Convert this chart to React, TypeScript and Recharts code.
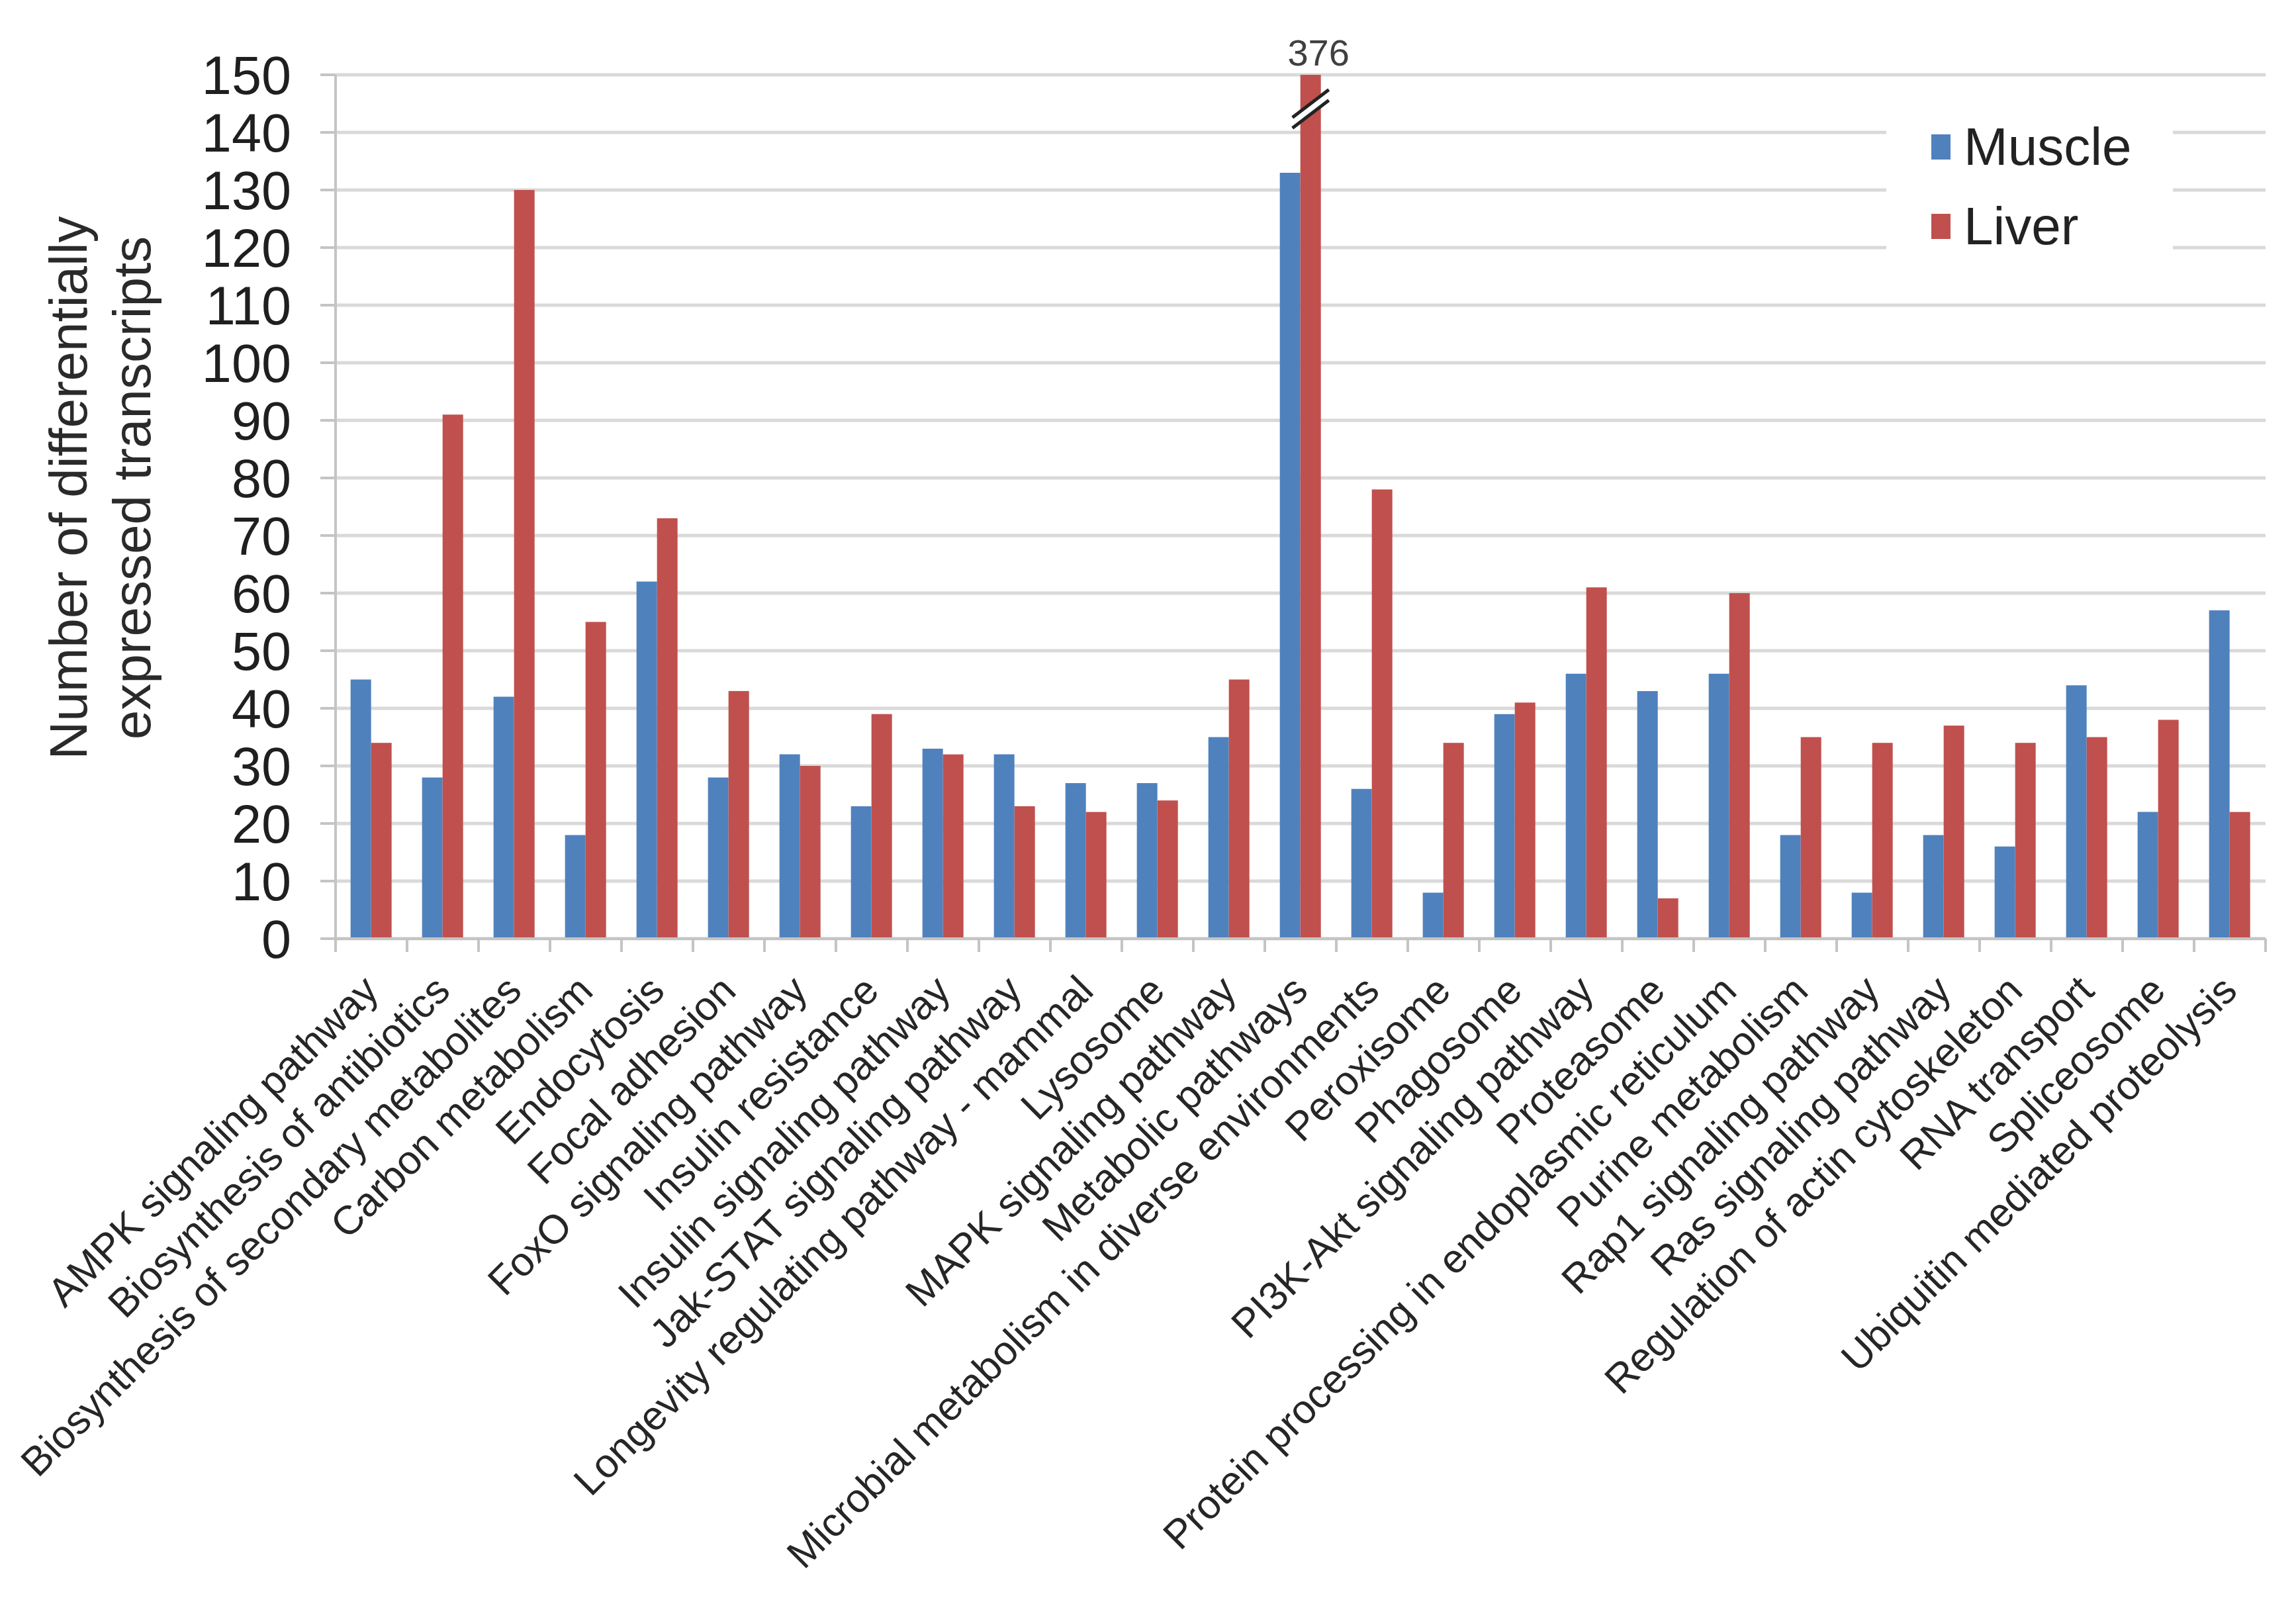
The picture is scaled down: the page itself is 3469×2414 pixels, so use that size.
import { Bar, BarChart, CartesianGrid, Legend, XAxis, YAxis } from "recharts";

const categories = [
  "AMPK signaling pathway",
  "Biosynthesis of antibiotics",
  "Biosynthesis of secondary metabolites",
  "Carbon metabolism",
  "Endocytosis",
  "Focal adhesion",
  "FoxO signaling pathway",
  "Insulin resistance",
  "Insulin signaling pathway",
  "Jak-STAT signaling pathway",
  "Longevity regulating pathway - mammal",
  "Lysosome",
  "MAPK signaling pathway",
  "Metabolic pathways",
  "Microbial metabolism in diverse environments",
  "Peroxisome",
  "Phagosome",
  "PI3K-Akt signaling pathway",
  "Proteasome",
  "Protein processing in endoplasmic reticulum",
  "Purine metabolism",
  "Rap1 signaling pathway",
  "Ras signaling pathway",
  "Regulation of actin cytoskeleton",
  "RNA transport",
  "Spliceosome",
  "Ubiquitin mediated proteolysis",
];

const muscle = [45, 28, 42, 18, 62, 28, 32, 23, 33, 32, 27, 27, 35, 133, 26, 8, 39, 46, 43, 46, 18, 8, 18, 16, 44, 22, 57];
const liver = [34, 91, 130, 55, 73, 43, 30, 39, 32, 23, 22, 24, 45, 376, 78, 34, 41, 61, 7, 60, 35, 34, 37, 34, 35, 38, 22];

const seriesOrder = ["Muscle", "Liver"];
const yTicks = [0, 10, 20, 30, 40, 50, 60, 70, 80, 90, 100, 110, 120, 130, 140, 150];
const Y_MAX = 150;
const BREAK_AT = 145;

const FONT = "'Liberation Sans', Arial, sans-serif";
const W = 3469;
const H = 2414;
const PLOT_LEFT = 507;
const PLOT_RIGHT = 46;
const PLOT_TOP = 113;
const AXIS_H = 996;
const STEP = (W - PLOT_LEFT - PLOT_RIGHT) / categories.length;
const AXIS_COLOR = "#c4c4c4";

const rows = categories.map((name, i) => ({ name, muscle: muscle[i], liver: liver[i] }));

function CategoryTick(props: any) {
  const { x, y, payload, index } = props;
  const half = STEP / 2;
  const ax = x + 14;
  const ay = y + 82;
  return (
    <g>
      <line x1={x - half} y1={y} x2={x - half} y2={y + 20} stroke={AXIS_COLOR} strokeWidth={4} />
      {index === categories.length - 1 && (
        <line x1={x + half} y1={y} x2={x + half} y2={y + 20} stroke={AXIS_COLOR} strokeWidth={4} />
      )}
      <text
        x={ax}
        y={ay}
        transform={`rotate(-45 ${ax} ${ay})`}
        textAnchor="end"
        fontSize={61}
        fontFamily={FONT}
        fill="#262626"
      >
        {payload.value}
      </text>
    </g>
  );
}

function YTitle() {
  const cy = 737;
  return (
    <g fontFamily={FONT} fontSize={80} fill="#2a2a2a" textAnchor="middle">
      <text x={131} y={cy} transform={`rotate(-90 131 ${cy})`}>
        Number of differentially
      </text>
      <text x={227} y={cy} transform={`rotate(-90 227 ${cy})`}>
        expressed  transcripts
      </text>
    </g>
  );
}

function LiverShape(props: any) {
  const { x, y, width, height, payload, fill } = props;
  const broken = payload.liver > Y_MAX;
  const yb = y + (height * (Y_MAX - BREAK_AT)) / Y_MAX;
  const x1 = x - 12;
  const x2 = x + width + 12;
  const rise = 42;
  const gap = 16;
  return (
    <g>
      <rect x={x} y={y} width={width} height={height} fill={fill} />
      {broken && (
        <g>
          <polygon
            points={`${x1},${yb + rise / 2} ${x2},${yb - rise / 2} ${x2},${yb - rise / 2 + gap} ${x1},${yb + rise / 2 + gap}`}
            fill="#fff"
          />
          <line x1={x1} y1={yb + rise / 2} x2={x2} y2={yb - rise / 2} stroke="#222" strokeWidth={5} />
          <line x1={x1} y1={yb + rise / 2 + gap} x2={x2} y2={yb - rise / 2 + gap} stroke="#222" strokeWidth={5} />
          <text x={x + width / 2 + 12} y={y - 14} textAnchor="middle" fontSize={56} fontFamily={FONT} fill="#404040">
            {payload.liver}
          </text>
        </g>
      )}
    </g>
  );
}

function LegendBox(props: any) {
  const items = [...(props.payload || [])].sort(
    (a: any, b: any) => seriesOrder.indexOf(a.value) - seriesOrder.indexOf(b.value)
  );
  return (
    <div
      style={{
        width: 433,
        height: 270,
        background: "#fff",
        boxSizing: "border-box",
        paddingLeft: 68,
        paddingTop: 12,
        fontFamily: FONT,
      }}
    >
      {items.map((p: any) => (
        <div key={p.value} style={{ height: 120, display: "flex", alignItems: "center" }}>
          <span style={{ width: 29, height: 38, background: p.color, marginRight: 20, display: "inline-block" }} />
          <span style={{ fontSize: 80, color: "#222" }}>{p.value}</span>
        </div>
      ))}
    </div>
  );
}

export default function App() {
  return (
    <div style={{ width: W, height: H, background: "#fff" }}>
      <style>{"body{margin:0}"}</style>
      <BarChart
        width={W}
        height={H}
        data={rows}
        margin={{ top: PLOT_TOP, right: PLOT_RIGHT, bottom: 0, left: 0 }}
        barCategoryGap="21%"
        barGap={0}
      >
        <CartesianGrid vertical={false} stroke="#d9d9d9" strokeWidth={5} />
        <XAxis
          dataKey="name"
          interval={0}
          height={AXIS_H}
          tickSize={0}
          tickMargin={0}
          tickLine={false}
          axisLine={{ stroke: AXIS_COLOR, strokeWidth: 4 }}
          tick={<CategoryTick />}
        />
        <YAxis
          domain={[0, Y_MAX]}
          ticks={yTicks}
          interval={0}
          width={PLOT_LEFT}
          tickSize={23}
          tickMargin={44}
          axisLine={{ stroke: AXIS_COLOR, strokeWidth: 4 }}
          tickLine={{ stroke: AXIS_COLOR, strokeWidth: 4 }}
          tick={{ fontSize: 81, fill: "#1f1f1f", fontFamily: FONT }}
          label={{ content: <YTitle /> }}
        />
        <Legend
          layout="vertical"
          align="center"
          verticalAlign="middle"
          content={<LegendBox />}
          wrapperStyle={{ position: "absolute", left: 2850, top: 150, width: 433, height: 270 }}
        />
        <Bar dataKey="muscle" name="Muscle" fill="#4F81BD" isAnimationActive={false} />
        <Bar
          dataKey={(d: any) => Math.min(d.liver, Y_MAX)}
          name="Liver"
          fill="#C0504D"
          shape={<LiverShape />}
          isAnimationActive={false}
        />
      </BarChart>
    </div>
  );
}
